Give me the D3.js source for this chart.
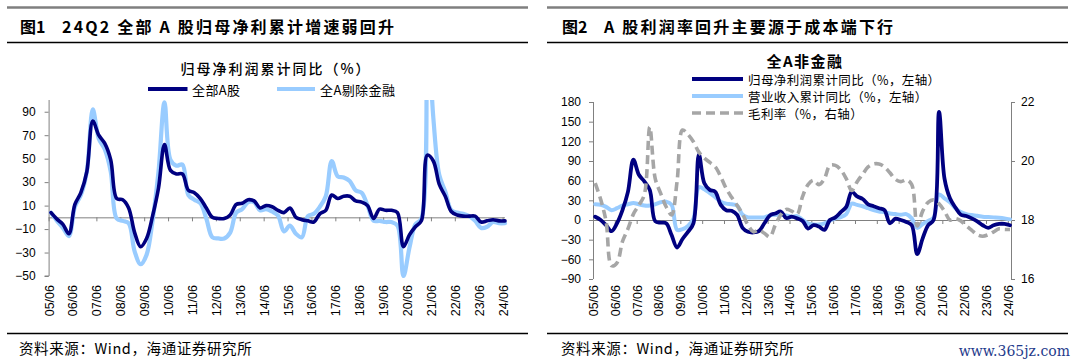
<!DOCTYPE html>
<html><head><meta charset="utf-8">
<script src="https://cdn.jsdelivr.net/npm/d3@7"></script>
<style>
body{margin:0;background:#fff;}
svg{display:block;}
.num{font-family:"Liberation Sans",Arial,sans-serif;fill:#000;}
.cjk{font-family:"Noto Sans CJK SC","Noto Sans",sans-serif;fill:#000;}
</style></head><body>
<svg id="c" width="1080" height="364"></svg>
<script>
// ---------- DATA ----------
const xTickLabels = ["05/06","06/06","07/06","08/06","09/06","10/06","11/06","12/06","13/06","14/06",
  "15/06","16/06","17/06","18/06","19/06","20/06","21/06","22/06","23/06","24/06"];
// quarterly categories 2005Q2 .. 2024Q2
const quarters = [];
for (let yr = 2005; yr <= 2024; yr++) for (let q = 1; q <= 4; q++) {
  if ((yr === 2005 && q < 2) || (yr === 2024 && q > 2)) continue;
  quarters.push(yr + "Q" + q);
}
// Fig.1 归母净利润累计同比（%）
const allA = [4,-1.5,-6,-14,11,21,39,82,70,63, 49,16,15,8,-13,-25,-18,1,25,62,
  40,37,37,23,21,16,8,0,-1,-1, 2,11,12,15,14,8,10,9,6,4,
  8,0,-2,-3,-4,3,6,19,16,18, 18,14,13,10,-1,7,6,6,4,-25,
  -15,-8,-3,53,48,28,18,5,2,1, 1,1,-4,-3,-2,-3,-3];
const exFin = [4,-3,-9,-16,9,19,39,92,67,58, 39,-1,-3,-5,-29,-40,-32,-3,39,98,
  49,44,45,19,15,12,-1,-17,-18,-18, -13,4,7,13,13,6,7,5,1.5,-12,
  -7,-14,-17,1,3,9,18,48,35,34, 31,23,21,10,-3,-3,-4,-4,-7,-50,
  -26,-6,-1,165,85,36,22,6,4,3, 1,-3,-9,-8,-4,-5,-5];
// Fig.2 全A非金融
const nfProfit = [5,0,-8,-17,-5,15,43,92,69,59, 46,-2,-4,-5,-23,-42,-29,-18,-5,100,
  56,46,43,23,15,14,8,-12,-18,-19, -17,-5,7,10,13,3,5,
  2.5,-1.5,-13,-8,-10,-15,0,4,12,20, 43,36,32,24,21,18,15,-5,2,0,
  -3,-8,-52,-28,-8,0,165,63,33,19, 8,6,2.5,-2,-8,-12,-8,-6,-6,-8];
const nfRevenue = [24,23,20,15,18,22,24,26,24,22, 22,24,27,28,23,-15,-14,-9,2,50,
  47,41,35,28,25,24,22,8,4,4, 4,4,7,8,8,7,5,
  6,0,-5,-7,-7,-5,-1,2.5,4.5,9, 25,23,21,18,15,13,12,10,9,8,
  9,2.5,-12,-6,-1.5,3.5,39,33,27,18, 12,9,7.5,6.5,5,4.5,4,3.5,2.5,1];
const nfMargin = [19.25,18.7,17.95,16.45,16.55,17.27,17.7,18.2,18.5,18.85,
  21.15,19.4,18.9,18.45,18.17,19.3,21.05,20.9,20.65,20.3,
  20.1,19.95,19.8,19.47,19.07,18.77,18.5,18.2,17.83,17.6,
  17.66,17.55,17.43,17.83,18.17,18.36,18.3,
  18.2,18.8,19.2,19.35,19.2,19.4,19.85,19.85,19.7,19.4,
  19.0,19.3,19.55,19.8,19.9,19.9,19.8,19.6,19.38,19.3,
  19.36,19.2,17.8,18.3,18.6,18.68,18.55,18.3,18.0,18.05,
  17.97,17.8,17.65,17.5,17.45,17.5,17.6,17.7,17.68,17.68];
const leftYTicks = [-50,-30,-10,10,30,50,70,90];
const rLeftTicks = [-90,-60,-30,0,30,60,90,120,150,180];
const rRightTicks = [16,18,20,22];
const seriesNames1 = ["全部A股","全A剔除金融"];
const seriesNames2 = ["归母净利润累计同比（%，左轴）","营业收入累计同比（%，左轴）","毛利率（%，右轴）"];

// ---------- STYLE ----------
const NAVY = "#000080", LIGHT = "#99CCFF", GRAY = "#A6A6A6", AXIS = "#808080";
const svg = d3.select("#c");
const tickPos = xTickLabels.map((_, k) => 4 * k - 0.4);
const curve = d3.curveCatmullRom.alpha(0.5);
const fmt = d3.format("d");

function frame(x0, x1, fig, title, titleX, restX) {
  svg.append("line").attr("x1", x0).attr("x2", x1).attr("y1", 7.5).attr("y2", 7.5)
    .attr("stroke", "#7f7f7f").attr("stroke-width", 2.6);
  svg.append("line").attr("x1", x0).attr("x2", x1).attr("y1", 42.5).attr("y2", 42.5)
    .attr("stroke", "#000").attr("stroke-width", 1.4);
  svg.append("line").attr("x1", x0).attr("x2", x1).attr("y1", 333.5).attr("y2", 333.5)
    .attr("stroke", "#000").attr("stroke-width", 1.4);
  svg.append("text").attr("class", "cjk").attr("x", titleX).attr("y", 33)
    .attr("font-size", 16).attr("font-weight", 700).text(fig);
  svg.append("text").attr("class", "cjk").attr("x", restX).attr("y", 33)
    .attr("font-size", 16).attr("font-weight", 700).attr("letter-spacing", 2.2).text(title);
  svg.append("text").attr("class", "cjk").attr("x", titleX - 1).attr("y", 354)
    .attr("font-size", 14.5).attr("letter-spacing", 0.6).attr("fill", "#222").text("资料来源：Wind，海通证券研究所");
}

function drawSeries(g, data, x, y, color, w, dash) {
  const p = g.append("path").datum(data)
    .attr("d", d3.line().x((d, i) => x(i)).y(d => y(d)).curve(curve))
    .attr("fill", "none").attr("stroke", color).attr("stroke-width", w)
    .attr("stroke-linejoin", "round").attr("stroke-linecap", dash ? "butt" : "round");
  if (dash) p.attr("stroke-dasharray", dash);
  return p;
}

function styleAxis(g) {
  g.select(".domain").attr("stroke", AXIS).attr("stroke-width", 1);
  g.selectAll(".tick line").attr("stroke", AXIS).attr("stroke-width", 1);
  g.selectAll(".tick text").attr("class", "num").attr("font-size", 12).attr("fill", "#000");
}

function xLabels(x, yPos) {
  const ax = svg.append("g").attr("transform", `translate(0,${yPos})`)
    .call(d3.axisBottom(x).tickValues(tickPos).tickSize(0).tickFormat((d, k) => xTickLabels[k]));
  ax.select(".domain").remove();
  ax.selectAll(".tick text").attr("class", "num").attr("font-size", 12.5).attr("fill", "#000")
    .attr("text-anchor", "end").attr("transform", "rotate(-90)")
    .attr("x", 0).attr("y", 0).attr("dx", 0).attr("dy", "0.36em");
}

// ================= FIGURE 1 =================
frame(7, 528, "图1", "24Q2 全部 A 股归母净利累计增速弱回升", 20, 62);
{
  const x = d3.scaleLinear().domain([-0.4, 76]).range([48.6, 505]);
  const y = d3.scaleLinear().domain([-50, 100]).range([276, 100]);
  svg.append("defs").append("clipPath").attr("id", "clip1")
    .append("rect").attr("x", 40).attr("y", 100).attr("width", 480).attr("height", 200);

  const zx = svg.append("g").attr("transform", `translate(0,${y(0)})`)
    .call(d3.axisBottom(x).tickValues(tickPos).tickSize(4).tickSizeOuter(0).tickFormat(""));
  zx.select(".domain").attr("d", `M${x(-0.4)},0.5H${x(76)}`);
  styleAxis(zx);

  const ya = svg.append("g").attr("transform", `translate(${x(-0.4)},0)`)
    .call(d3.axisLeft(y).tickValues(leftYTicks).tickSize(4).tickPadding(9).tickSizeOuter(0).tickFormat(fmt));
  ya.select(".domain").attr("d", `M0.5,${y(100)}V${y(-50)}H-4`);
  styleAxis(ya);

  xLabels(x, 285);

  const g = svg.append("g").attr("clip-path", "url(#clip1)");
  drawSeries(g, exFin, x, y, LIGHT, 4.2);
  drawSeries(g, allA, x, y, NAVY, 3.6);

  svg.append("text").attr("class", "cjk").attr("x", 276).attr("y", 68)
    .attr("text-anchor", "middle").attr("dominant-baseline", "central")
    .attr("font-size", 14).attr("font-weight", 500).attr("letter-spacing", 2).text("归母净利润累计同比（%）");
  const lg = [[148, 187.5, 192, NAVY], [277, 315, 320, LIGHT]];
  lg.forEach((l, k) => {
    svg.append("line").attr("x1", l[0]).attr("x2", l[1]).attr("y1", 89).attr("y2", 89)
      .attr("stroke", l[3]).attr("stroke-width", 4);
    svg.append("text").attr("class", "cjk").attr("x", l[2]).attr("y", 89)
      .attr("dominant-baseline", "central").attr("font-size", 13).attr("letter-spacing", 0.4)
      .attr("fill", "#222").text(seriesNames1[k]);
  });
}

// ================= FIGURE 2 =================
frame(547, 1068, "图2", "A 股利润率回升主要源于成本端下行", 562, 604);
{
  const x = d3.scaleLinear().domain([-0.4, 76]).range([593, 1010]);
  const yl = d3.scaleLinear().domain([-90, 180]).range([279, 102]);
  const yr = d3.scaleLinear().domain([16, 22]).range([279, 102]);

  const zx = svg.append("g").attr("transform", `translate(0,${yl(0)})`)
    .call(d3.axisBottom(x).tickValues(tickPos).tickSize(4).tickSizeOuter(0).tickFormat(""));
  zx.select(".domain").attr("d", `M${x(-0.4)},0.5H1011`);
  styleAxis(zx);

  const ya = svg.append("g").attr("transform", `translate(${x(-0.4)},0)`)
    .call(d3.axisLeft(yl).tickValues(rLeftTicks).tickSize(4).tickPadding(8).tickSizeOuter(0).tickFormat(fmt));
  ya.select(".domain").attr("d", `M0.5,${yl(180)}V${yl(-90)}`);
  styleAxis(ya);

  const yb = svg.append("g").attr("transform", `translate(1011,0)`)
    .call(d3.axisRight(yr).tickValues(rRightTicks).tickSize(4).tickPadding(6).tickSizeOuter(0).tickFormat(fmt));
  yb.select(".domain").attr("d", `M0.5,${yr(22)}V${yr(16)}`);
  styleAxis(yb);

  xLabels(x, 285);

  const g = svg.append("g");
  drawSeries(g, nfRevenue, x, yl, LIGHT, 4);
  drawSeries(g, nfProfit, x, yl, NAVY, 3.8);
  drawSeries(g, nfMargin, x, yr, GRAY, 3.6, "9,5");

  svg.append("text").attr("class", "cjk").attr("x", 805).attr("y", 60)
    .attr("text-anchor", "middle").attr("dominant-baseline", "central")
    .attr("font-size", 15).attr("font-weight", 700).attr("letter-spacing", 1.5).text("全A非金融");
  const cols = [NAVY, LIGHT, GRAY];
  [79, 96, 113].forEach((yy, k) => {
    const ln = svg.append("line").attr("x1", 692).attr("x2", 743).attr("y1", yy).attr("y2", yy)
      .attr("stroke", cols[k]).attr("stroke-width", 4);
    if (k === 2) ln.attr("stroke-dasharray", "9,5").attr("stroke-width", 3.6);
    svg.append("text").attr("class", "cjk").attr("x", 748).attr("y", yy)
      .attr("dominant-baseline", "central").attr("font-size", 12.5).attr("letter-spacing", 0.4)
      .attr("fill", "#222").text(seriesNames2[k]);
  });
}

// watermark
svg.append("text").attr("x", 1070).attr("y", 356).attr("text-anchor", "end")
  .attr("font-family", "DejaVu Serif, serif").attr("font-size", 14).attr("fill", "#1f3b8c")
  .text("www.365jz.com");
</script>
</body></html>
